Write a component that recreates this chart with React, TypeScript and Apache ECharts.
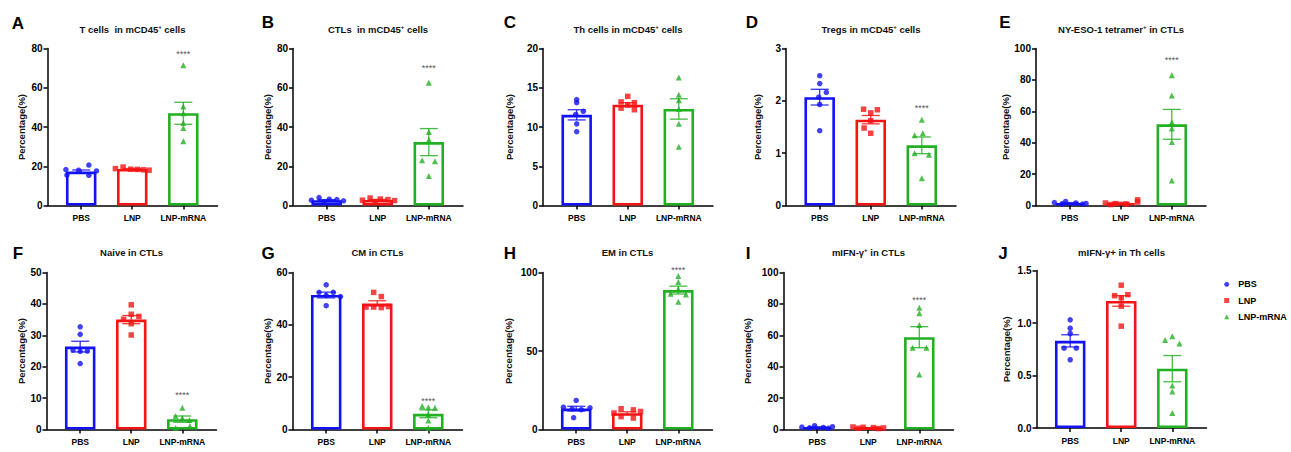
import React, { useEffect, useRef } from "react";
import * as echarts from "echarts";

// ---------------- data ----------------
const groups = ["PBS", "LNP", "LNP-mRNA"];
const letters = ["A", "B", "C", "D", "E", "F", "G", "H", "I", "J"];
const titles = [
  "T cells  in mCD45{s|+} cells",
  "CTLs  in mCD45{s|+} cells",
  "Th cells in mCD45{s|+} cells",
  "Tregs in mCD45{s|+} cells",
  "NY-ESO-1 tetramer{s|+} in CTLs",
  "Naive in CTLs",
  "CM in CTLs",
  "EM in CTLs",
  "mIFN-γ{s|+} in CTLs",
  "mIFN-γ+ in Th cells",
];
const yMax = [80, 80, 20, 3, 100, 50, 60, 100, 100, 1.5];
const yStep = [20, 20, 5, 1, 20, 10, 20, 50, 20, 0.5];

const barMeans = [
  [17.3, 18.6, 47.0],
  [2.7, 2.8, 32.3],
  [11.55, 12.85, 12.3],
  [2.07, 1.64, 1.15],
  [1.6, 1.6, 51.7],
  [26.4, 35.0, 3.3],
  [51.4, 48.2, 6.0],
  [13.3, 10.4, 88.8],
  [1.5, 1.1, 58.8],
  [0.83, 1.21, 0.565],
];
const barSEM = [
  [0.8, 0.25, 5.6],
  [0.3, 0.3, 6.9],
  [0.65, 0.25, 1.3],
  [0.15, 0.08, 0.16],
  [0.25, 0.45, 9.5],
  [1.7, 1.3, 1.0],
  [1.1, 1.0, 1.5],
  [1.5, 0.9, 2.5],
  [0.2, 0.15, 6.7],
  [0.058, 0.05, 0.125],
];
const pointValues = [
  [[20.6, 18.3, 18.0, 17.6, 15.5, 15.4], [19.6, 18.8, 18.5, 18.4, 18.2, 18.0], [71.5, 50.5, 47.0, 42.0, 39.5, 32.8]],
  [[4.0, 3.2, 3.0, 2.7, 2.4, 1.9], [3.8, 3.3, 3.0, 2.7, 2.5, 1.9], [62.5, 37.5, 33.5, 23.0, 22.5, 15.0]],
  [[13.5, 13.1, 12.0, 11.6, 10.4, 9.4], [13.9, 13.2, 13.1, 12.8, 12.4, 12.2], [16.3, 14.1, 13.4, 12.3, 10.4, 7.5]],
  [[2.48, 2.33, 2.16, 2.07, 1.93, 1.43], [1.84, 1.83, 1.77, 1.62, 1.48, 1.38], [1.64, 1.38, 1.34, 1.0, 0.97, 0.52]],
  [[2.6, 1.9, 1.6, 1.3, 1.1, 0.9], [3.6, 2.2, 1.6, 1.2, 0.9, 0.6], [83, 70, 53, 49, 40.5, 16]],
  [[32.7, 30.3, 25.3, 25.0, 24.9, 21.0], [39.7, 36.7, 36.0, 35.1, 33.7, 30.1], [6.9, 4.3, 3.7, 3.0, 1.1, 0.5]],
  [[55.3, 52.4, 52.4, 51.3, 50.8, 47.3], [52.4, 50.8, 47.0, 46.8, 46.8, 46.6], [9.0, 8.5, 8.3, 5.7, 3.4, 0.6]],
  [[18.5, 14.2, 13.8, 13.2, 12.6, 7.5], [13.2, 12.5, 11.5, 10.5, 8.2, 7.3], [97.8, 94.0, 89.5, 86.5, 86.0, 81.3]],
  [[2.4, 1.8, 1.5, 1.3, 1.1, 0.8], [1.6, 1.4, 1.2, 1.0, 0.8, 0.6], [77.5, 74.0, 66.5, 52.0, 52.0, 35.0]],
  [[1.03, 0.95, 0.9, 0.76, 0.76, 0.65], [1.36, 1.27, 1.26, 1.24, 1.16, 0.97], [0.875, 0.837, 0.805, 0.404, 0.347, 0.142]],
];
// horizontal scatter of each point within its group (fraction of group spacing)
const pointJitter = [
  [[0.15, -0.3, -0.05, 0.3, -0.28, 0.15], [-0.18, -0.33, -0.03, 0.1, 0.22, 0.33], [0, 0, 0, 0, 0, 0]],
  [[-0.15, 0.05, 0.2, -0.3, 0.33, -0.05], [-0.15, 0.05, 0.2, -0.3, 0.33, -0.05], [0, 0, 0, -0.13, 0.12, 0]],
  [[0, 0, 0.13, -0.02, 0, 0], [0, -0.13, 0.13, 0, -0.13, 0.13], [0, 0, 0, 0, 0, 0]],
  [[0, 0, 0.13, -0.02, 0, 0], [-0.14, 0.13, 0, 0, -0.13, 0], [0, 0.02, -0.14, -0.14, 0.14, 0]],
  [[-0.08, -0.3, 0.12, 0.32, -0.15, 0.25], [0.33, 0.33, -0.3, -0.1, 0.1, -0.2], [0, 0, 0, 0, 0, 0]],
  [[0, 0, -0.14, 0.14, 0, 0], [0, 0, 0.15, -0.15, 0, 0], [0, -0.13, 0, 0.14, 0.15, -0.13]],
  [[0, -0.14, 0.14, 0, 0.28, 0], [-0.07, 0.08, 0.22, -0.22, -0.07, 0.08], [-0.12, 0, 0.13, 0, 0, 0]],
  [[0, -0.25, 0.27, -0.08, 0.1, -0.05], [-0.12, 0.12, 0.26, -0.26, -0.12, 0.12], [0, 0, 0, -0.15, 0.15, 0]],
  [[-0.05, 0.3, -0.3, 0.12, -0.15, 0.22], [-0.3, -0.1, 0.1, 0.3, -0.2, 0.2], [0, 0, 0, -0.13, 0.14, 0]],
  [[0, 0, 0, -0.12, 0.12, 0], [0, 0.13, -0.13, 0, 0, 0], [0, -0.14, 0.14, 0, 0, 0]],
];
const starLevels = [78, 71, null, 1.9, 94, 11.7, 11.8, 102.8, 83.6, null];

// ---------------- layout / style ----------------
const FONT = "Arial, 'Liberation Sans', Helvetica, sans-serif";
const colors = ["#1212f5", "#f51414", "#22b022"];
const symbols = ["circle", "rect", "triangle"];
const gridLefts = [47.5, 293, 543, 786, 1036, 46.5, 292.5, 542.5, 783.5, 1036.5];
const gridTops = [48.5, 48.5, 48.5, 48.5, 48.5, 272.5, 272.5, 272.5, 272.5, 270.5];
const gridHeights = [157, 157, 157, 157, 157, 157, 157, 157, 157, 157.5];
const GRID_W = 170;
const nameGaps = [21, 20, 29, 24, 23, 20, 20, 29, 31, 25];
const letterPos = [
  [18, 23], [268, 22.5], [510, 22.5], [752, 22.5], [1005, 22.5],
  [18, 253.5], [268, 253.5], [510, 253.5], [748, 253.5], [1003, 253.5],
];

export default function App() {
  const ref = useRef<HTMLDivElement>(null);
  useEffect(() => {
    const chart = echarts.init(ref.current!, null, { renderer: "svg" });
    const grid: any[] = [];
    const xAxis: any[] = [];
    const yAxis: any[] = [];
    const series: any[] = [];
    const graphic: any[] = [];
    const axisLineStyle = { color: "#000", width: 1.5 };

    for (let i = 0; i < 10; i++) {
      grid.push({ left: gridLefts[i], top: gridTops[i], width: GRID_W, height: gridHeights[i] });
      xAxis.push({
        type: "value",
        gridIndex: i,
        min: -0.66,
        max: 2.67,
        axisLine: { show: true, onZero: false, lineStyle: axisLineStyle },
        axisTick: { show: true, customValues: [0, 1, 2], length: 4, lineStyle: axisLineStyle },
        axisLabel: {
          customValues: [0, 1, 2],
          formatter: (v: number) => groups[Math.round(v)] ?? "",
          fontSize: 8.5,
          fontWeight: "bold",
          fontFamily: FONT,
          color: "#000",
          margin: 8,
        },
        splitLine: { show: false },
      });
      yAxis.push({
        type: "value",
        gridIndex: i,
        min: 0,
        max: yMax[i],
        interval: yStep[i],
        name: "Percentage(%)",
        nameLocation: "middle",
        nameGap: nameGaps[i],
        nameTextStyle: { fontSize: 9.5, fontWeight: "bold", fontFamily: FONT, color: "#111" },
        axisLine: { show: true, onZero: false, lineStyle: axisLineStyle },
        axisTick: { show: true, length: 4, lineStyle: axisLineStyle },
        axisLabel: {
          fontSize: 10,
          fontWeight: "bold",
          fontFamily: FONT,
          color: "#000",
          margin: 5,
          formatter: (v: number) => (yStep[i] < 1 ? v.toFixed(1) : String(v)),
        },
        splitLine: { show: false },
      });

      // hollow bars (means)
      series.push({
        type: "bar",
        name: "mean",
        xAxisIndex: i,
        yAxisIndex: i,
        barWidth: 30.5,
        z: 1,
        data: barMeans[i].map((m, g) => ({
          value: [g, m],
          itemStyle: { color: "#fff", borderColor: colors[g], borderWidth: 2.6 },
        })),
      });
      // individual points
      for (let g = 0; g < 3; g++) {
        series.push({
          type: "scatter",
          name: groups[g],
          xAxisIndex: i,
          yAxisIndex: i,
          symbol: symbols[g],
          symbolSize: g === 2 ? 6 : 5.5,
          itemStyle: { color: colors[g] },
          z: 3,
          data: pointValues[i][g].map((v, k) => [g + pointJitter[i][g][k], v]),
        });
      }
      // error bars (mean ± SEM)
      series.push({
        type: "custom",
        name: "sem",
        xAxisIndex: i,
        yAxisIndex: i,
        z: 4,
        data: barMeans[i].map((m, g) => [g, m, barSEM[i][g], g]),
        renderItem: (params: any, api: any) => {
          const x = api.value(0);
          const m = api.value(1);
          const s = api.value(2);
          const g = api.value(3);
          const top = api.coord([x, m + s]);
          const bot = api.coord([x, m - s]);
          const hw = 9;
          const st = { stroke: colors[g], lineWidth: 1.3, opacity: 0.85 };
          return {
            type: "group",
            children: [
              { type: "line", shape: { x1: top[0], y1: top[1], x2: bot[0], y2: bot[1] }, style: st },
              { type: "line", shape: { x1: top[0] - hw, y1: top[1], x2: top[0] + hw, y2: top[1] }, style: st },
              { type: "line", shape: { x1: bot[0] - hw, y1: bot[1], x2: bot[0] + hw, y2: bot[1] }, style: st },
            ],
          };
        },
      });
      // significance stars
      if (starLevels[i] != null) {
        series.push({
          type: "custom",
          name: "stars",
          xAxisIndex: i,
          yAxisIndex: i,
          z: 5,
          clip: false,
          data: [[2, starLevels[i]]],
          renderItem: (params: any, api: any) => {
            const p = api.coord([api.value(0), api.value(1)]);
            return {
              type: "text",
              x: p[0],
              y: p[1] + 2,
              style: {
                text: "****",
                fill: "#555",
                fontSize: 9,
                fontFamily: FONT,
                align: "center",
                verticalAlign: "middle",
              },
            };
          },
        });
      }

      // panel letter
      graphic.push({
        type: "text",
        x: letterPos[i][0],
        y: letterPos[i][1],
        style: {
          text: letters[i],
          fill: "#000",
          fontSize: 17,
          fontWeight: "bold",
          fontFamily: FONT,
          align: "center",
          verticalAlign: "middle",
        },
      });
      // panel title
      graphic.push({
        type: "text",
        x: gridLefts[i] + GRID_W / 2,
        y: i < 5 ? 29 : 252,
        style: {
          text: titles[i],
          fill: "#111",
          fontSize: 9.5,
          fontWeight: "bold",
          fontFamily: FONT,
          align: "center",
          verticalAlign: "middle",
          rich: {
            s: { fontSize: 6, fontWeight: "bold", fontFamily: FONT, fill: "#111", verticalAlign: "top" },
          },
        },
      });
    }

    chart.setOption({
      animation: false,
      backgroundColor: "#fff",
      grid,
      xAxis,
      yAxis,
      series,
      graphic,
      legend: {
        data: groups.map((n, g) => ({ name: n, icon: symbols[g] })),
        orient: "vertical",
        left: 1219.2,
        top: 273.8,
        itemWidth: 5,
        itemHeight: 5,
        itemGap: 5.2,
        selectedMode: false,
        textStyle: {
          fontSize: 9,
          fontWeight: "bold",
          fontFamily: FONT,
          color: "#000",
          lineHeight: 11,
          padding: [0, 0, 0, 4],
        },
      },
    });
    return () => chart.dispose();
  }, []);

  return (
    <div
      ref={ref}
      style={{ position: "absolute", left: 0, top: 0, width: 1291, height: 452 }}
    />
  );
}
